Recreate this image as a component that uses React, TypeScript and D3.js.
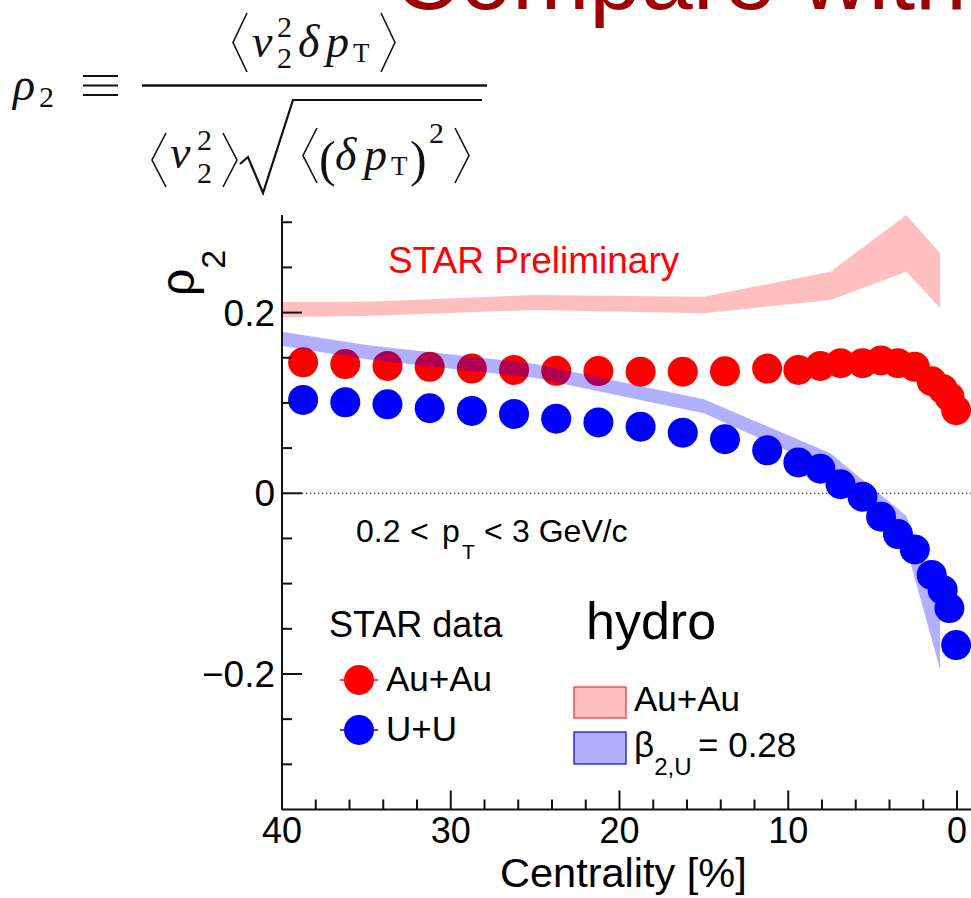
import React from "react";
import * as d3 from "d3";

const W = 971;
const H = 898;

// STAR data: centrality bin centres (%)
const centrality = [
  38.75, 36.25, 33.75, 31.25, 28.75, 26.25, 23.75, 21.25, 18.75, 16.25, 13.75,
  11.25, 9.4, 8.1, 6.9, 5.6, 4.5, 3.5, 2.5, 1.5, 0.85, 0.45, 0.05,
];
const rhoAuAu = [
  0.145, 0.143, 0.141, 0.14, 0.138, 0.1365, 0.1355, 0.1352, 0.1346, 0.1346,
  0.135, 0.138, 0.1365, 0.141, 0.144, 0.144, 0.147, 0.144, 0.14, 0.124, 0.1155,
  0.1066, 0.092,
];
const rhoUU = [
  0.1033, 0.1007, 0.0985, 0.0941, 0.0911, 0.0878, 0.0826, 0.0784, 0.0737,
  0.0671, 0.0598, 0.0476, 0.0341, 0.0272, 0.01, -0.0038, -0.0259, -0.0451,
  -0.0622, -0.0904, -0.107, -0.127, -0.168,
];

// hydro bands
const hydroCent = [40, 35, 25, 15, 7.5, 3, 1];
const hydroAuAuLo = [0.1952, 0.1963, 0.2029, 0.1993, 0.214, 0.2453, 0.2048];
const hydroAuAuHi = [0.2118, 0.2121, 0.2195, 0.2176, 0.2453, 0.3081, 0.2657];
const hydroUULo = [0.1631, 0.1483, 0.1277, 0.0886, 0.0258, -0.0606, -0.195];
const hydroUUHi = [0.1789, 0.1642, 0.1432, 0.1041, 0.0443, -0.0251, -0.12];

// axis ticks
const xTicks = d3.range(0, 42, 2);
const xMajor = [40, 30, 20, 10, 0];
const yTicks = d3.range(-6, 7).map((i) => i * 0.05);
const yMajor = [0.2, 0, -0.2];
const yLabels = ["0.2", "0", "\u22120.2"];

const sans = "'Liberation Sans', Arial, Helvetica, sans-serif";
const serif = "'Liberation Serif', 'DejaVu Serif', serif";

const xScale = d3.scaleLinear().domain([40, 0]).range([282, 957]);
const yScale = d3.scaleLinear().domain([-0.35, 0.308]).range([809.5, 215]);

const band = d3
  .area<number>()
  .x((c) => xScale(c))
  .curve(d3.curveLinear);

function bandPath(lo: number[], hi: number[]) {
  return band.y0((_, i) => yScale(lo[i])).y1((_, i) => yScale(hi[i]))(
    hydroCent
  ) as string;
}

function Bracket({ x, y0, y1, dir }: { x: number; y0: number; y1: number; dir: number }) {
  // dir = -1 for left angle bracket, +1 for right
  const ym = (y0 + y1) / 2;
  return (
    <path
      d={`M${x},${y0} L${x + dir * 14},${ym} L${x},${y1}`}
      fill="none"
      stroke="#111"
      strokeWidth={1.6}
    />
  );
}

function Formula() {
  const it = { fontFamily: serif, fontStyle: "italic", fontSize: 46 };
  const rm = { fontFamily: serif, fontSize: 30 };
  return (
    <g fill="#111">
      {/* rho_2 = */}
      <text x={13} y={100} {...it}>ρ</text>
      <text x={39} y={107} {...rm}>2</text>
      {[76, 85.5, 95].map((y) => (
        <line key={y} x1={83} x2={118} y1={y} y2={y} stroke="#111" strokeWidth={2} />
      ))}
      {/* numerator */}
      <Bracket x={247} y0={13} y1={72} dir={-1} />
      <text x={252} y={57} {...it}>v</text>
      <text x={277} y={37} {...rm}>2</text>
      <text x={277} y={68} {...rm}>2</text>
      <text x={298} y={57} {...it}>δ</text>
      <text x={326} y={57} {...it}>p</text>
      <text x={353} y={62} {...rm} fontSize={27}>T</text>
      <Bracket x={381} y0={13} y1={72} dir={1} />
      <line x1={142} x2={487} y1={85.5} y2={85.5} stroke="#111" strokeWidth={2.6} />
      {/* denominator */}
      <Bracket x={166} y0={133} y1={187} dir={-1} />
      <text x={170} y={168} {...it}>v</text>
      <text x={197} y={150} {...rm}>2</text>
      <text x={197} y={183} {...rm}>2</text>
      <Bracket x={223} y0={133} y1={187} dir={1} />
      <path
        d="M240,164 L248,157 L263,193 L293,100 L482,100"
        fill="none"
        stroke="#111"
        strokeWidth={2.2}
        strokeLinejoin="miter"
      />
      <Bracket x={317} y0={128} y1={183} dir={-1} />
      <text x={319} y={176} fontFamily={serif} fontSize={50}>(</text>
      <text x={335} y={170} {...it}>δ</text>
      <text x={364} y={170} {...it}>p</text>
      <text x={391} y={175} {...rm} fontSize={27}>T</text>
      <text x={410} y={176} fontFamily={serif} fontSize={50}>)</text>
      <text x={429} y={143} {...rm}>2</text>
      <Bracket x={455} y0={128} y1={183} dir={1} />
    </g>
  );
}

export default function App() {
  const x0 = xScale(40);
  const y0 = yScale(-0.35);
  return (
    <div style={{ position: "absolute", left: 0, top: 0 }}>
      <svg width={W} height={H} style={{ display: "block", background: "#fff" }}>
        {/* slide title, cut at the top */}
        <text x={393} y={9} fontFamily={sans} fontSize={93} fill="#9c0000">
          Compare with
        </text>

        <Formula />

        {/* zero line */}
        <line
          x1={x0}
          x2={W}
          y1={yScale(0)}
          y2={yScale(0)}
          stroke="#444"
          strokeWidth={1.3}
          strokeDasharray="1.3,2.7"
        />

        {/* hydro Au+Au */}
        <path d={bandPath(hydroAuAuLo, hydroAuAuHi)} fill="rgba(255,0,0,0.25)" />

        {/* STAR Au+Au */}
        <g fill="#ff0000">
          {centrality.map((c, i) => (
            <circle key={i} cx={xScale(c)} cy={yScale(rhoAuAu[i])} r={15} />
          ))}
        </g>

        {/* hydro U+U */}
        <path d={bandPath(hydroUULo, hydroUUHi)} fill="rgba(0,0,255,0.31)" />

        {/* STAR U+U */}
        <g fill="#0000ff">
          {centrality.map((c, i) => (
            <circle key={i} cx={xScale(c)} cy={yScale(rhoUU[i])} r={15} />
          ))}
        </g>

        {/* axes */}
        <g stroke="#111" strokeWidth={2}>
          <line x1={x0} x2={x0} y1={215} y2={y0} />
          <line x1={x0} x2={W} y1={y0} y2={y0} />
          {yTicks.map((v) => {
            const major = yMajor.some((m) => Math.abs(m - v) < 1e-6);
            return (
              <line
                key={v}
                x1={x0}
                x2={x0 + (major ? 20 : 10)}
                y1={yScale(v)}
                y2={yScale(v)}
              />
            );
          })}
          {xTicks.map((c) => (
            <line
              key={c}
              x1={xScale(c)}
              x2={xScale(c)}
              y1={y0}
              y2={y0 - (xMajor.includes(c) ? 19 : 10)}
            />
          ))}
        </g>
        <g fontFamily={sans} fontSize={37} fill="#000" textAnchor="end">
          {yMajor.map((v, i) => (
            <text key={v} x={275} y={yScale(v) + 13}>
              {yLabels[i]}
            </text>
          ))}
        </g>
        <g fontFamily={sans} fontSize={36} fill="#000" textAnchor="middle">
          {xMajor.map((c) => (
            <text key={c} x={xScale(c)} y={843}>
              {c}
            </text>
          ))}
        </g>
        <text x={500} y={887} fontFamily={sans} fontSize={41.5}>
          Centrality [%]
        </text>
        <text transform="translate(194,296) rotate(-90)" fontFamily={sans} fontSize={48}>
          ρ
          <tspan fontSize={34} dy={31}>
            2
          </tspan>
        </text>

        {/* annotations */}
        <text x={388} y={273} fontFamily={sans} fontSize={37} fill="#ff0000">
          STAR Preliminary
        </text>
        <text fontFamily={sans} fontSize={32} y={542}>
          <tspan x={356}>0.2</tspan>
          <tspan x={410}>&lt;</tspan>
          <tspan x={442}>p</tspan>
          <tspan x={462} dy={17} fontSize={21}>
            T
          </tspan>
          <tspan x={484} dy={-17}>
            &lt;
          </tspan>
          <tspan x={512}>3 GeV/c</tspan>
        </text>

        {/* legend: data */}
        <text x={329} y={637} fontFamily={sans} fontSize={36}>
          STAR data
        </text>
        {[
          { y: 680, color: "#ff0000", label: "Au+Au" },
          { y: 730, color: "#0000ff", label: "U+U" },
        ].map((d) => (
          <g key={d.label}>
            <line x1={340} x2={378} y1={d.y} y2={d.y} stroke={d.color} strokeWidth={1.5} />
            <circle cx={359} cy={d.y} r={15} fill={d.color} />
            <text x={386} y={d.y + 11} fontFamily={sans} fontSize={35}>
              {d.label}
            </text>
          </g>
        ))}

        {/* legend: hydro */}
        <text x={586} y={639} fontFamily={sans} fontSize={52}>
          hydro
        </text>
        <rect
          x={574}
          y={687}
          width={52}
          height={31}
          fill="rgba(255,0,0,0.25)"
          stroke="rgba(255,40,40,0.8)"
          strokeWidth={1.5}
        />
        <rect
          x={574}
          y={732}
          width={52}
          height={32}
          fill="rgba(0,0,255,0.31)"
          stroke="rgba(0,0,255,0.8)"
          strokeWidth={1.5}
        />
        <text x={634} y={711} fontFamily={sans} fontSize={35}>
          Au+Au
        </text>
        <text x={634} y={757} fontFamily={sans} fontSize={35}>
          β
          <tspan fontSize={24} dy={18}>
            2,U
          </tspan>
          <tspan x={698} dy={-18}>
            = 0.28
          </tspan>
        </text>
      </svg>
    </div>
  );
}
